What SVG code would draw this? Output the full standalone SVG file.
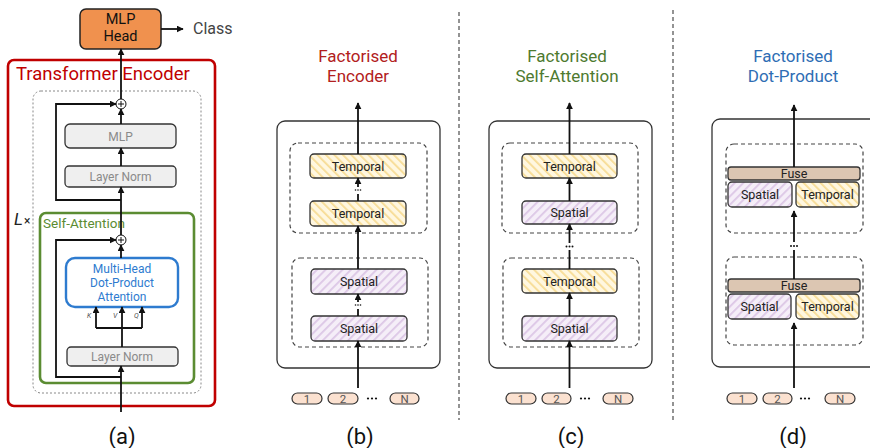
<svg xmlns="http://www.w3.org/2000/svg" width="870" height="448" viewBox="0 0 870 448">
<style>
text { font-family: Roboto, "Liberation Sans", sans-serif; }
.ln { stroke:#111; stroke-width:1.8; fill:none; }
.arr { marker-end:url(#ah); }
.gbox { fill:#EFEFEF; stroke:#333; stroke-width:1.3; }
.gtxt { fill:#8a8a8a; font-size:12px; text-anchor:middle; }
.outer { fill:none; stroke:#333; stroke-width:1.3; }
.dash { fill:none; stroke:#444; stroke-width:1.2; stroke-dasharray:4 3; }
.sep { stroke:#666; stroke-width:1.4; stroke-dasharray:4 3; }
.temp { fill:url(#hatchT); stroke:#333; stroke-width:1.3; }
.spat { fill:url(#hatchS); stroke:#333; stroke-width:1.3; }
.fuse { fill:#DCC6B2; stroke:#333; stroke-width:1.3; }
.btxt { fill:#222; font-size:12.5px; text-anchor:middle; }
.pill { fill:#FBE1D0; stroke:#333; stroke-width:1.2; }
.ptxt { fill:#555; font-size:11.5px; text-anchor:middle; }
.cap { fill:#111; font-size:22px; text-anchor:middle; }
.title { font-size:17px; text-anchor:middle; }
.dot { fill:#111; }
.kvq { fill:#555; font-size:7px; font-style:italic; }
</style>
<defs>
<marker id="ah" viewBox="0 0 10 10" refX="9" refY="5" markerWidth="7" markerHeight="7" markerUnits="userSpaceOnUse" orient="auto">
<path d="M0,0 L10,5 L0,10 z" fill="#111"/>
</marker>
<pattern id="hatchT" patternUnits="userSpaceOnUse" width="6" height="6" patternTransform="rotate(-45)">
<rect width="6" height="6" fill="#FFF7E0"/>
<rect width="1.8" height="6" fill="#F7DC95"/>
</pattern>
<pattern id="hatchS" patternUnits="userSpaceOnUse" width="6" height="6" patternTransform="rotate(45)">
<rect width="6" height="6" fill="#F5EEF8"/>
<rect width="1.8" height="6" fill="#DCC7E6"/>
</pattern>
</defs>

<!-- separators -->
<g id="separators">
<line class="sep" x1="459" y1="12" x2="459" y2="420"/>
<line class="sep" x1="673" y1="10" x2="673" y2="420"/>
</g>

<!-- ===== Panel (a) ===== -->
<g id="transformer-encoder">
<rect x="8" y="60" width="207" height="346" rx="6" fill="none" stroke="#C00000" stroke-width="2.6"/>
<text x="16" y="80" fill="#C00000" font-size="18.5px">Transformer Encoder</text>
</g>
<g id="layer-block">
<rect x="33" y="91" width="168" height="302" rx="8" fill="none" stroke="#888" stroke-width="1" stroke-dasharray="2 2"/>
<text x="14" y="225" fill="#222" font-size="17px" font-style="italic">L</text>
<text x="24" y="225" fill="#222" font-size="12px">×</text>
</g>
<g id="self-attention">
<rect x="40" y="213" width="154" height="170" rx="6" fill="none" stroke="#5B8C32" stroke-width="2.6"/>
<text x="43" y="228" fill="#5B8C32" font-size="13.5px">Self-Attention</text>
</g>
<g id="mlp-head">
<rect x="80" y="9" width="81" height="40" rx="6" fill="#F0914E" stroke="#222" stroke-width="1.5"/>
<text x="120.5" y="24" fill="#111" font-size="14.5px" text-anchor="middle">MLP</text>
<text x="120.5" y="41" fill="#111" font-size="14.5px" text-anchor="middle">Head</text>
</g>
<g id="class-label">
<text x="193" y="34" fill="#444" font-size="16px">Class</text>
</g>
<g id="mlp">
<rect class="gbox" x="65" y="124" width="111" height="24" rx="5"/>
<text class="gtxt" x="120.5" y="140.5">MLP</text>
</g>
<g id="layer-norm-1">
<rect class="gbox" x="65" y="166" width="111" height="21" rx="4"/>
<text class="gtxt" x="120.5" y="181">Layer Norm</text>
</g>
<g id="mhdpa">
<rect x="66" y="258" width="112" height="49" rx="9" fill="#fff" stroke="#2E7BCF" stroke-width="2.4"/>
<text x="122" y="273" fill="#2E7BCF" font-size="12px" text-anchor="middle">Multi-Head</text>
<text x="122" y="287" fill="#2E7BCF" font-size="12px" text-anchor="middle">Dot-Product</text>
<text x="122" y="301" fill="#2E7BCF" font-size="12px" text-anchor="middle">Attention</text>
</g>
<g id="layer-norm-2">
<rect class="gbox" x="67" y="347" width="111" height="19" rx="4"/>
<text class="gtxt" x="122" y="361">Layer Norm</text>
</g>
<g id="plus-1">
<circle cx="121" cy="104" r="5" fill="#fff" stroke="#111" stroke-width="1"/>
<path d="M118,104 H124 M121,101 V107" stroke="#111" stroke-width="1"/>
</g>
<g id="plus-2">
<circle cx="121" cy="240" r="5" fill="#fff" stroke="#111" stroke-width="1"/>
<path d="M118,240 H124 M121,237 V243" stroke="#111" stroke-width="1"/>
</g>
<g id="kvq-labels">
<text class="kvq" x="87" y="318">K</text>
<text class="kvq" x="113" y="318">V</text>
<text class="kvq" x="134" y="318">Q</text>
</g>
<text class="cap" x="122" y="444">(a)</text>

<!-- ===== Panel (b) ===== -->
<g id="title-b">
<text class="title" x="358" y="62" fill="#B22020">Factorised</text>
<text class="title" x="358" y="82" fill="#B22020">Encoder</text>
</g>
<g id="outer-b"><rect class="outer" x="277" y="121" width="163" height="247" rx="8"/></g>
<g id="temporal-group-b"><rect class="dash" x="290" y="143" width="137" height="90" rx="8"/></g>
<g id="spatial-group-b"><rect class="dash" x="292" y="258" width="136" height="89" rx="8"/></g>
<g id="b-temporal-2"><rect class="temp" x="310" y="154" width="96" height="24" rx="4"/><text class="btxt" x="358" y="170.5">Temporal</text></g>
<g id="b-temporal-1"><rect class="temp" x="310" y="201" width="96" height="25" rx="4"/><text class="btxt" x="358" y="218">Temporal</text></g>
<g id="b-spatial-2"><rect class="spat" x="311" y="269" width="96" height="25" rx="4"/><text class="btxt" x="359" y="286">Spatial</text></g>
<g id="b-spatial-1"><rect class="spat" x="311" y="316" width="96" height="25" rx="4"/><text class="btxt" x="359" y="333">Spatial</text></g>
<g id="tokens-b">
<rect class="pill" x="292" y="393" width="30" height="11" rx="5.5"/><text class="ptxt" x="307" y="402.5">1</text>
<rect class="pill" x="328" y="393" width="30" height="11" rx="5.5"/><text class="ptxt" x="343" y="402.5">2</text>
<circle class="dot" cx="368" cy="398.5" r="1.1"/><circle class="dot" cx="372" cy="398.5" r="1.1"/><circle class="dot" cx="376" cy="398.5" r="1.1"/>
<rect class="pill" x="390" y="393" width="29" height="11" rx="5.5"/><text class="ptxt" x="404.5" y="402.5">N</text>
</g>
<text class="cap" x="360" y="444">(b)</text>

<!-- ===== Panel (c) ===== -->
<g id="title-c">
<text class="title" x="567" y="62" fill="#4E7A2F">Factorised</text>
<text class="title" x="567" y="82" fill="#4E7A2F">Self-Attention</text>
</g>
<g id="outer-c"><rect class="outer" x="489" y="121" width="163" height="247" rx="8"/></g>
<g id="block-2-c"><rect class="dash" x="502" y="143" width="136" height="90" rx="8"/></g>
<g id="block-1-c"><rect class="dash" x="503" y="258" width="136" height="89" rx="8"/></g>
<g id="c-temporal-2"><rect class="temp" x="522" y="154" width="95" height="24" rx="4"/><text class="btxt" x="569.5" y="170.5">Temporal</text></g>
<g id="c-spatial-2"><rect class="spat" x="522" y="201" width="95" height="23" rx="4"/><text class="btxt" x="569.5" y="217">Spatial</text></g>
<g id="c-temporal-1"><rect class="temp" x="522" y="269" width="95" height="24" rx="4"/><text class="btxt" x="569.5" y="285.5">Temporal</text></g>
<g id="c-spatial-1"><rect class="spat" x="522" y="316" width="95" height="25" rx="4"/><text class="btxt" x="569.5" y="333">Spatial</text></g>
<g id="tokens-c">
<rect class="pill" x="506" y="393" width="30" height="11" rx="5.5"/><text class="ptxt" x="521" y="402.5">1</text>
<rect class="pill" x="542" y="393" width="29" height="11" rx="5.5"/><text class="ptxt" x="556.5" y="402.5">2</text>
<circle class="dot" cx="581" cy="398.5" r="1.1"/><circle class="dot" cx="585" cy="398.5" r="1.1"/><circle class="dot" cx="589" cy="398.5" r="1.1"/>
<rect class="pill" x="603" y="393" width="30" height="11" rx="5.5"/><text class="ptxt" x="618" y="402.5">N</text>
</g>
<text class="cap" x="571" y="444">(c)</text>

<!-- ===== Panel (d) ===== -->
<g id="title-d">
<text class="title" x="793" y="62" fill="#2E6DB4">Factorised</text>
<text class="title" x="793" y="82" fill="#2E6DB4">Dot-Product</text>
</g>
<g id="outer-d"><rect class="outer" x="712" y="119" width="180" height="248" rx="8"/></g>
<g id="block-2-d"><rect class="dash" x="726" y="144" width="137" height="89" rx="8"/></g>
<g id="block-1-d"><rect class="dash" x="726" y="257" width="137" height="88" rx="8"/></g>
<g id="d-fuse-2"><rect class="fuse" x="728" y="167" width="132" height="13" rx="3"/><text class="btxt" x="794" y="177.5" font-size="11.5px">Fuse</text></g>
<g id="d-spatial-2"><rect class="spat" x="728" y="182" width="64" height="25" rx="4"/><text class="btxt" x="760" y="198.5">Spatial</text></g>
<g id="d-temporal-2"><rect class="temp" x="796" y="182" width="63" height="25" rx="4"/><text class="btxt" x="827.5" y="199">Temporal</text></g>
<g id="d-fuse-1"><rect class="fuse" x="728" y="279" width="132" height="13" rx="3"/><text class="btxt" x="794" y="289.5" font-size="11.5px">Fuse</text></g>
<g id="d-spatial-1"><rect class="spat" x="728" y="294" width="63" height="25" rx="4"/><text class="btxt" x="759.5" y="310.5">Spatial</text></g>
<g id="d-temporal-1"><rect class="temp" x="796" y="294" width="63" height="25" rx="4"/><text class="btxt" x="827.5" y="311">Temporal</text></g>
<g id="tokens-d">
<rect class="pill" x="727" y="393" width="30" height="11" rx="5.5"/><text class="ptxt" x="742" y="402.5">1</text>
<rect class="pill" x="763" y="393" width="29" height="11" rx="5.5"/><text class="ptxt" x="777.5" y="402.5">2</text>
<circle class="dot" cx="801" cy="398.5" r="1.1"/><circle class="dot" cx="805" cy="398.5" r="1.1"/><circle class="dot" cx="809" cy="398.5" r="1.1"/>
<rect class="pill" x="825" y="393" width="30" height="11" rx="5.5"/><text class="ptxt" x="840" y="402.5">N</text>
</g>
<text class="cap" x="793" y="444">(d)</text>

<!-- ===== connectors ===== -->
<g id="connectors">
<!-- (a) -->
<line class="ln arr" x1="161" y1="29" x2="183" y2="29"/>
<line class="ln arr" x1="121" y1="99" x2="121" y2="49"/>
<line class="ln arr" x1="121" y1="124" x2="121" y2="109"/>
<line class="ln arr" x1="121" y1="166" x2="121" y2="148"/>
<line class="ln arr" x1="121" y1="235" x2="121" y2="187"/>
<path class="ln arr" d="M121,200 H56 V104 H116"/>
<line class="ln arr" x1="121" y1="258" x2="121" y2="245"/>
<path class="ln arr" d="M121,377 H56 V240 H116"/>
<line class="ln arr" x1="121" y1="412" x2="121" y2="366"/>
<line class="ln arr" x1="122" y1="347" x2="122" y2="307"/>
<path class="ln" d="M96,328 H142" stroke-width="1.5"/>
<line class="ln arr" x1="96" y1="328" x2="96" y2="307" stroke-width="1.5"/>
<line class="ln arr" x1="142" y1="328" x2="142" y2="307" stroke-width="1.5"/>
<!-- (b) -->
<line class="ln arr" x1="358" y1="154" x2="358" y2="103"/>
<line class="ln" x1="358" y1="201" x2="358" y2="194"/>
<circle class="dot" cx="355.5" cy="190" r="0.8"/><circle class="dot" cx="358" cy="190" r="0.8"/><circle class="dot" cx="360.5" cy="190" r="0.8"/>
<line class="ln arr" x1="358" y1="187" x2="358" y2="178"/>
<line class="ln arr" x1="358" y1="269" x2="358" y2="226"/>
<line class="ln" x1="358" y1="316" x2="358" y2="309"/>
<circle class="dot" cx="355.5" cy="305" r="0.8"/><circle class="dot" cx="358" cy="305" r="0.8"/><circle class="dot" cx="360.5" cy="305" r="0.8"/>
<line class="ln arr" x1="358" y1="302" x2="358" y2="294"/>
<line class="ln arr" x1="358" y1="388" x2="358" y2="341"/>
<!-- (c) -->
<line class="ln arr" x1="569.5" y1="154" x2="569.5" y2="103"/>
<line class="ln arr" x1="569.5" y1="201" x2="569.5" y2="178"/>
<line class="ln" x1="569.5" y1="269" x2="569.5" y2="250"/>
<circle class="dot" cx="566.5" cy="246.5" r="1"/><circle class="dot" cx="569.5" cy="246.5" r="1"/><circle class="dot" cx="572.5" cy="246.5" r="1"/>
<line class="ln arr" x1="569.5" y1="243" x2="569.5" y2="224"/>
<line class="ln arr" x1="569.5" y1="316" x2="569.5" y2="293"/>
<line class="ln arr" x1="569.5" y1="388" x2="569.5" y2="341"/>
<!-- (d) -->
<line class="ln arr" x1="794" y1="167" x2="794" y2="105"/>
<line class="ln" x1="794" y1="279" x2="794" y2="250"/>
<circle class="dot" cx="791" cy="246" r="1"/><circle class="dot" cx="794" cy="246" r="1"/><circle class="dot" cx="797" cy="246" r="1"/>
<line class="ln arr" x1="794" y1="242" x2="794" y2="211"/>
<line class="ln arr" x1="794" y1="388" x2="794" y2="323"/>
</g>
</svg>
